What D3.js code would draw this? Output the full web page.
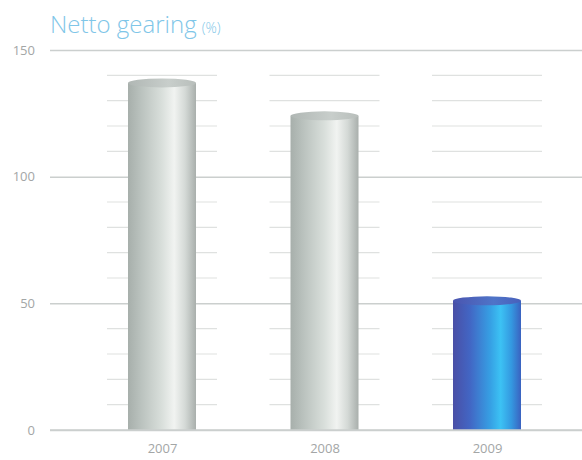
<!DOCTYPE html>
<html>
<head>
<meta charset="utf-8">
<script src="https://cdn.jsdelivr.net/npm/d3@7"></script>
<style>
  html, body { margin: 0; padding: 0; background: #ffffff; }
  svg { display: block; }
  .ylab text, .xlab text { font-family: "Open Sans", "Lato", sans-serif; fill: #a3a6a6; }
</style>
</head>
<body>
<svg id="chart" width="582" height="460"></svg>
<script>
// Net gearing by year (%)
const years = ["2007", "2008", "2009"];
const gearing = [137, 124, 51];
const yTicks = [0, 50, 100, 150];
const minorTicks = [10, 20, 30, 40, 60, 70, 80, 90, 110, 120, 130, 140];

const plotL = 50, plotR = 582, plotT = 50, plotB = 430;
const barW = 68, capRy = 4.5, minorHalf = 55;

const svg = d3.select("#chart");
const y = d3.scaleLinear().domain([0, 150]).range([plotB, plotT]);
const x = d3.scalePoint().domain(years).range([162, 487]);

// gradients for the cylinders
const defs = svg.append("defs");
function grad(id, stops) {
  const g = defs.append("linearGradient").attr("id", id)
    .attr("x1", "0%").attr("x2", "100%").attr("y1", "0%").attr("y2", "0%");
  stops.forEach(([o, c]) => g.append("stop").attr("offset", o).attr("stop-color", c));
}
grad("greyBody", [["0%", "#a7afab"], ["18%", "#b9c1bd"], ["50%", "#d9dfdb"], ["68%", "#f1f3f1"], ["84%", "#d4d9d6"], ["100%", "#a9afac"]]);
grad("greyTop", [["0%", "#b0b7b4"], ["60%", "#c8cecb"], ["100%", "#b8bebb"]]);
grad("blueBody", [["0%", "#4a4fa6"], ["25%", "#4266c4"], ["55%", "#36a0e4"], ["70%", "#3cc2f4"], ["86%", "#3498e0"], ["100%", "#3a62c0"]]);
grad("blueTop", [["0%", "#4a55b0"], ["60%", "#4f74c8"], ["100%", "#4860bb"]]);

// title
const title = svg.append("text")
  .attr("x", 50).attr("y", 33)
  .attr("font-family", "\"Open Sans\", Lato, sans-serif")
  .attr("font-weight", 300)
  .attr("fill", "#7fc6e8");
title.append("tspan").attr("font-size", 24).text("Netto gearing");
title.append("tspan").attr("font-size", 14).attr("dx", 5).text("(%)");

// short minor grid lines around each bar
const minor = svg.append("g").attr("class", "minor");
years.forEach(yr => {
  minor.selectAll(null).data(minorTicks).enter().append("line")
    .attr("x1", x(yr) - minorHalf).attr("x2", x(yr) + minorHalf)
    .attr("y1", d => y(d)).attr("y2", d => y(d))
    .attr("stroke", "#dfe1e0").attr("stroke-width", 1.1);
});

// major grid lines and value labels
const yAxis = d3.axisLeft(y).tickValues(yTicks).tickSize(-(plotR - plotL)).tickPadding(15);
const yg = svg.append("g").attr("class", "ylab").attr("transform", `translate(${plotL},0)`).call(yAxis);
yg.select(".domain").remove();
yg.selectAll(".tick line").attr("stroke", "#cbcfce").attr("stroke-width", 1.5);
yg.selectAll(".tick text").attr("font-size", 13);

// cylinders
const bars = svg.append("g").attr("class", "bars");
const data = years.map((yr, i) => ({ yr, v: gearing[i], blue: yr === "2009" }));
const g = bars.selectAll("g").data(data).enter().append("g");
g.append("rect")
  .attr("x", d => x(d.yr) - barW / 2)
  .attr("y", d => y(d.v))
  .attr("width", barW)
  .attr("height", d => y(0) - y(d.v))
  .attr("fill", d => d.blue ? "url(#blueBody)" : "url(#greyBody)");
g.append("ellipse")
  .attr("cx", d => x(d.yr))
  .attr("cy", d => y(d.v))
  .attr("rx", barW / 2)
  .attr("ry", capRy)
  .attr("fill", d => d.blue ? "url(#blueTop)" : "url(#greyTop)");

// zero line drawn over bar bottoms
svg.append("line")
  .attr("x1", plotL).attr("x2", plotR)
  .attr("y1", y(0)).attr("y2", y(0))
  .attr("stroke", "#cbcfce").attr("stroke-width", 1.5);

// year labels
const xAxis = d3.axisBottom(x).tickSize(0).tickPadding(14);
const xg = svg.append("g").attr("class", "xlab").attr("transform", `translate(0,${plotB})`).call(xAxis);
xg.select(".domain").remove();
xg.selectAll(".tick text").attr("font-size", 13);
</script>
</body>
</html>
